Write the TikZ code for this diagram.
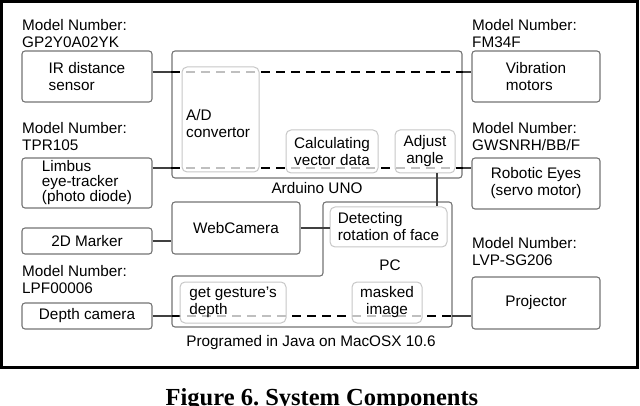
\documentclass[tikz,border=0pt]{standalone}
\usepackage{fontspec}
\setmainfont{Liberation Sans}
\newfontfamily\capfont{Liberation Serif}
\usetikzlibrary{calc}

\begin{document}
\begin{tikzpicture}[x=1pt, y=-1pt,
		txt/.style={font=\fontsize{15.3}{17}\selectfont, inner sep=0pt, align=center},
		outbox/.style={txt, draw=black!55, line width=1.1pt, rounded corners=3pt},
		inbox/.style={txt, draw=black!22, line width=1pt, rounded corners=5pt, fill=white, fill opacity=0.75, text opacity=1},
		wire/.style={black!75, line width=1.1pt},
		bus/.style={black, line width=1.5pt, dash pattern=on 9pt off 6pt}]
		%%%%% FRAME %%%%%
		\useasboundingbox (0,0) rectangle (640,406);
		\draw[line width=3pt] (1.5,1.5) rectangle (637.5,367.5);
		
		%%%%% LEFT %%%%%
		\node[txt, align=left, anchor=west] (mnir) at (22,34) {Model Number:\\GP2Y0A02YK};
		\node[outbox, align=left, minimum width=130, minimum height=51] (ir) at (87,76.5) {IR distance\\sensor};
		\node[txt, align=left, anchor=west] (mnlimbus) at (22,137) {Model Number:\\TPR105};
		\node[outbox, align=left, font=\fontsize{15.3}{15}\selectfont, minimum width=130, minimum height=50] (limbus) at (87,183) {Limbus\\eye-tracker\\(photo diode)};
		\node[outbox, minimum width=130, minimum height=26] (marker) at (87,241) {2D Marker};
		\node[txt, align=left, anchor=west] (mndepth) at (22,280) {Model Number:\\LPF00006};
		\node[outbox, minimum width=130, minimum height=26] (depth) at (87,316) {Depth camera};
		
		%%%%% RIGHT %%%%%
		\node[txt, align=left, anchor=west] (mnvib) at (472,34) {Model Number:\\FM34F};
		\node[outbox, align=left, minimum width=128, minimum height=51] (vib) at (536,76.5) {Vibration\\motors};
		\node[txt, align=left, anchor=west] (mneyes) at (472,137) {Model Number:\\GWSNRH/BB/F};
		\node[outbox, minimum width=128, minimum height=51] (eyes) at (536,183.5) {Robotic Eyes\\(servo motor)};
		\node[txt, align=left, anchor=west] (mnproj) at (472,252) {Model Number:\\LVP-SG206};
		\node[outbox, minimum width=128, minimum height=52] (proj) at (536,303) {Projector};
		
		%%%%% MIDDLE %%%%%
		\node[outbox, minimum width=290, minimum height=127] (arduino) at (317,114.5) {};
		\node[txt] (arduinolbl) at (317,188) {Arduino UNO};
		\node[outbox, minimum width=128, minimum height=52] (webcam) at (236,228) {WebCamera};
		\draw[draw=black!55, line width=1.1pt, rounded corners=3pt] (323,202) -- (452,202) -- (452,327) -- (172,327) -- (172,276) -- (323,276) -- cycle;
		\coordinate (pcw) at (172,316);
		\coordinate (pce) at (452,316);
		\node[txt] (pclbl) at (390,265) {PC};
		\node[txt] (javalbl) at (311,343) {Programed in Java on MacOSX 10.6};
		
		%%%%% LINES %%%%%
		\coordinate (yt) at (0,72);
		\coordinate (yb) at (0,168);
		\draw[wire] (ir.east |- yt) -- (arduino.west |- yt);
		\draw[bus] (arduino.west |- yt) -- (arduino.east |- yt);
		\draw[wire] (arduino.east |- yt) -- (vib.west |- yt);
		\draw[wire] (limbus.east |- yb) -- (arduino.west |- yb);
		\draw[bus] (arduino.west |- yb) -- (arduino.east |- yb);
		\draw[wire] (arduino.east |- yb) -- (eyes.west |- yb);
		\draw[wire] (marker.east) -- (marker.east -| webcam.west);
		\draw[wire] (depth.east) -- (pcw);
		\draw[bus] (pcw) -- (pce);
		\draw[wire] (pce) -- (pce -| proj.west);
		
		%%%%% INNER %%%%%
		\node[inbox, minimum width=77, minimum height=105] (ad) at (220.5,119.5) {};
		\node[txt, align=left, anchor=west] (adlbl) at (186,124) {A/D\\convertor};
		\node[inbox, minimum width=92, minimum height=43] (calc) at (332,151.5) {Calculating\\vector data};
		\node[inbox, minimum width=60, minimum height=43] (adjust) at (425,151.5) {Adjust\\angle};
		\node[inbox, align=left, minimum width=117, minimum height=40] (detect) at (388.5,227) {Detecting\\rotation of face};
		\node[inbox, align=left, minimum width=106, minimum height=41] (gest) at (233,302.5) {get gesture’s\\depth};
		\node[inbox, minimum width=70, minimum height=41] (mask) at (387,302.5) {masked\\image};
		
		\coordinate (ax) at (437,0);
		\draw[wire] (adjust.south -| ax) -- (detect.north -| ax);
		\draw[wire] (webcam.east) -- (webcam.east -| detect.west);
		
		%%%%% CAPTION %%%%%
		\node[font=\capfont\bfseries\fontsize{24.5}{28}\selectfont, inner sep=0pt, anchor=base] (caption) at (322,405) {Figure 6.\ System Components};
\end{tikzpicture}
\end{document}
